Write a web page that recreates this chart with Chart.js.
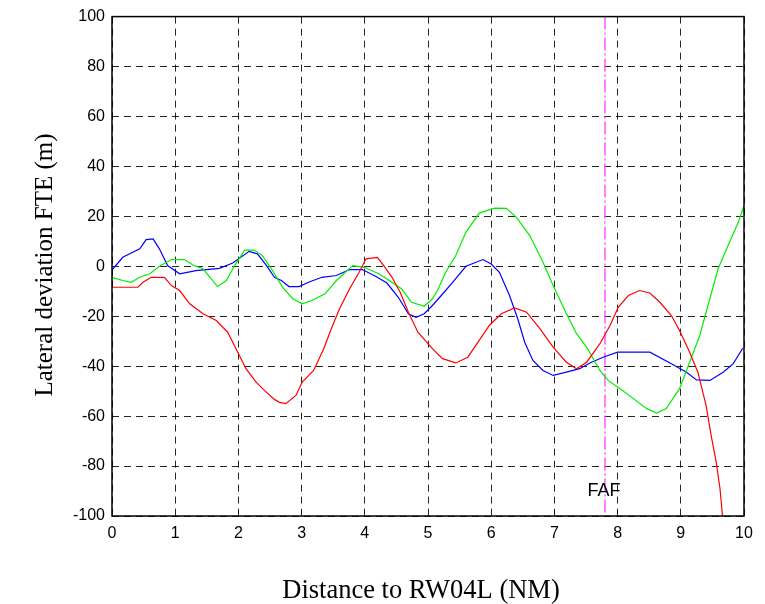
<!DOCTYPE html>
<html>
<head>
<meta charset="utf-8">
<script src="https://cdn.jsdelivr.net/npm/chart.js@4.4.0/dist/chart.umd.min.js"></script>
<style>
html,body{margin:0;padding:0;background:#fff;}
canvas{display:block;}
</style>
</head>
<body>
<canvas id="c" width="765" height="604"></canvas>
<script>
// ---- data ----
const xTicks = [0,1,2,3,4,5,6,7,8,9,10];
const yTicks = [-100,-80,-60,-40,-20,0,20,40,60,80,100];

const xRed = [0,0.41,0.49,0.62,0.83,0.94,1.07,1.23,1.44,1.65,1.83,1.99,2.12,2.28,2.41,2.57,2.65,2.75,2.91,3.01,3.19,3.35,3.47,3.6,3.76,3.91,4.02,4.2,4.3,4.43,4.56,4.69,4.84,5.07,5.23,5.44,5.63,5.81,5.97,6.16,6.37,6.56,6.77,6.98,7.19,7.35,7.51,7.72,7.88,8.01,8.17,8.35,8.51,8.67,8.85,8.98,9.14,9.27,9.4,9.48,9.56,9.62,9.66];
const yRed = [-8.4,-8.4,-6.4,-4.4,-4.4,-7.7,-9.7,-15,-19,-21.7,-26.4,-34.4,-41,-46.4,-49.7,-53.3,-54.5,-55,-51.7,-46.4,-41.7,-33,-25,-17,-9,-2.4,3,3.6,0.3,-4.4,-10.4,-18.4,-26.4,-33,-37,-38.7,-36.4,-29.7,-23.7,-19,-16.7,-18.4,-25,-32.4,-38.4,-41,-38.4,-31,-23.7,-16.4,-11.7,-9.7,-10.7,-14.4,-19.7,-25.7,-34.4,-42.4,-55.7,-67.7,-78.4,-89,-100];

const xGreen = [0,0.17,0.3,0.44,0.6,0.75,0.94,1.15,1.28,1.44,1.67,1.81,1.94,2.1,2.25,2.38,2.54,2.7,2.86,3.01,3.16,3.37,3.55,3.81,3.99,4.22,4.43,4.58,4.74,4.94,5.07,5.15,5.28,5.44,5.6,5.81,6.05,6.24,6.4,6.61,6.82,6.98,7.19,7.35,7.51,7.72,7.85,8.04,8.25,8.46,8.62,8.77,8.98,9.14,9.3,9.43,9.59,9.77,9.91,10];
const yGreen = [-4.4,-5.7,-6.4,-4.4,-3,0,2.7,2.7,0.5,-1,-8.1,-5.7,0.3,6.5,6.5,4.3,-1.7,-8.4,-13,-15,-13.7,-11,-5.7,0.3,-0.4,-3,-6.4,-9,-14.4,-16,-13,-9.7,-2.4,4.3,13.6,21.3,23.3,23.2,19.6,12.3,1.6,-7.7,-19,-27,-32.4,-41.7,-45.7,-49,-53,-57,-58.8,-57,-49,-38.4,-27.7,-15.7,-1,9.6,17.6,24.3];

const xBlue = [0,0.17,0.28,0.44,0.54,0.65,0.75,0.88,1.07,1.33,1.7,1.91,2.17,2.3,2.44,2.57,2.68,2.8,2.96,3.11,3.32,3.55,3.76,3.96,4.17,4.35,4.53,4.69,4.81,4.94,5.07,5.21,5.39,5.6,5.87,6.0,6.13,6.29,6.42,6.53,6.66,6.82,6.98,7.19,7.4,7.56,7.77,8.0,8.51,8.83,9.09,9.25,9.46,9.67,9.83,9.98];
const yBlue = [-1.5,3.6,5,7,10.7,11,7,0.3,-3,-1.7,-0.8,1.3,6,5,0.5,-4.4,-5.7,-8.1,-8.1,-6.4,-4.4,-3.7,-1.3,-1.3,-4,-6.7,-12.4,-19,-20.4,-19,-15.7,-11.7,-6.4,0,2.7,0.9,-2.4,-11.7,-21,-30.4,-37.7,-41.7,-43.7,-42.4,-41,-38.7,-36.4,-34.4,-34.4,-38.7,-42.4,-45.5,-45.7,-42.4,-39,-32.8];

const fafX = 7.8;
const fafLabel = "FAF";
const fafLabelY = -90;
const xTitle = "Distance to RW04L (NM)";
const yTitle = "Lateral deviation FTE (m)";

function pts(xs, ys){ return xs.map((x,i)=>({x:x, y:ys[i]})); }

const boxPlugin = {
  id:'boxPlugin',
  afterDraw(chart){
    const {ctx, chartArea:a, scales} = chart;
    ctx.save();
    ctx.strokeStyle = '#000';
    ctx.lineWidth = 1.5;
    ctx.setLineDash([]);
    ctx.strokeRect(a.left, a.top, a.right-a.left, a.bottom-a.top);
    // FAF label
    ctx.fillStyle = '#000';
    ctx.font = '18px "Liberation Sans", Arial, sans-serif';
    ctx.textAlign = 'center';
    ctx.textBaseline = 'middle';
    ctx.fillText(fafLabel, scales.x.getPixelForValue(fafX) - 1, scales.y.getPixelForValue(fafLabelY));
    // axis titles
    ctx.textBaseline = 'alphabetic';
    ctx.font = '26.5px "Liberation Serif", "Times New Roman", serif';
    ctx.fillText(xTitle, 421, 598);
    ctx.font = '25px "Liberation Serif", "Times New Roman", serif';
    ctx.translate(52, 265);
    ctx.rotate(-Math.PI/2);
    ctx.fillText(yTitle, 0, 0);
    ctx.restore();
  }
};

const lineDs = (label, data, color) => ({
  label, data, borderColor: color, backgroundColor: color,
  borderWidth: 1.2, pointRadius: 0, tension: 0, fill: false
});

new Chart(document.getElementById('c'), {
  type: 'line',
  data: {
    datasets: [
      lineDs('red', pts(xRed, yRed), '#ff0000'),
      lineDs('green', pts(xGreen, yGreen), '#00ee00'),
      lineDs('blue', pts(xBlue, yBlue), '#0000ff'),
      {
        label:'FAF', data:[{x:fafX,y:yTicks[yTicks.length-1]},{x:fafX,y:yTicks[0]}],
        borderColor:'#ff55ff', borderWidth:1.5, borderDash:[13,3,2,3],
        pointRadius:0, fill:false
      }
    ]
  },
  options: {
    responsive:false,
    animation:false,
    events:[],
    layout:{padding:{top:16,right:21,left:0,bottom:0}},
    plugins:{legend:{display:false}, tooltip:{enabled:false}},
    scales:{
      x:{
        type:'linear', min:xTicks[0], max:xTicks[xTicks.length-1],
        afterFit(s){ s.height = 88; },
        afterBuildTicks(s){ s.ticks = xTicks.map(v=>({value:v})); },
        ticks:{color:'#000', font:{family:'"Liberation Sans", Arial, sans-serif', size:16}, padding:8, maxRotation:0, autoSkip:false},
        grid:{color:'rgba(0,0,0,0.85)', lineWidth:1, drawTicks:false},
        border:{display:false, dash:[7,5]}
      },
      y:{
        type:'linear', min:yTicks[0], max:yTicks[yTicks.length-1],
        afterFit(s){ s.width = 112; },
        afterBuildTicks(s){ s.ticks = yTicks.map(v=>({value:v})); },
        ticks:{color:'#000', font:{family:'"Liberation Sans", Arial, sans-serif', size:16}, padding:7, autoSkip:false},
        grid:{color:'rgba(0,0,0,0.85)', lineWidth:1, drawTicks:false},
        border:{display:false, dash:[7,5]}
      }
    }
  },
  plugins:[boxPlugin]
});
</script>
</body>
</html>
